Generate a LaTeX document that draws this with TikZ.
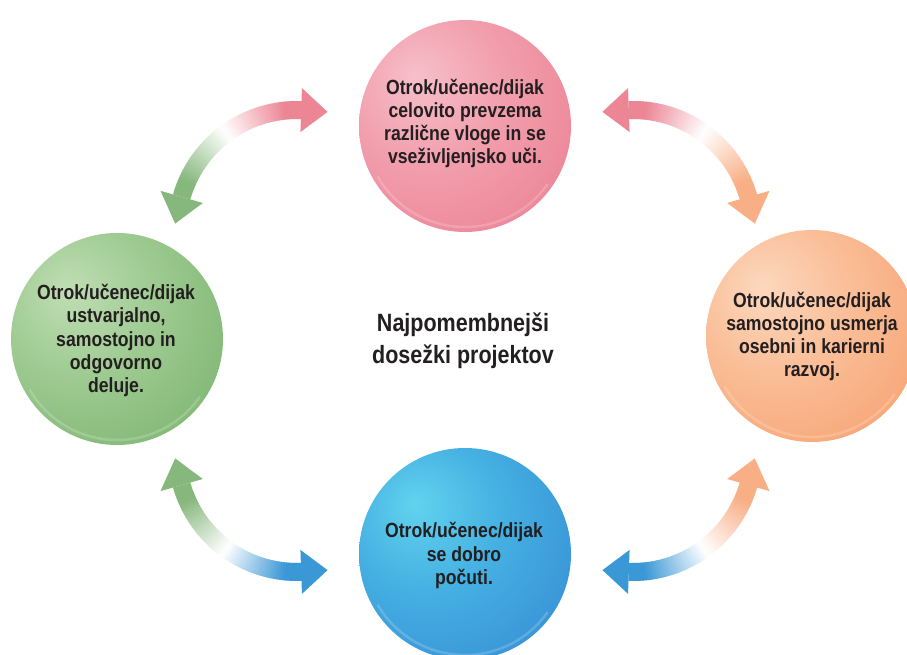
\documentclass[tikz,border=0pt]{standalone}
\usepackage{fontspec}
\setmainfont[FakeStretch=0.86]{Liberation Sans}
\definecolor{txt}{HTML}{231F20}
\definecolor{greenA}{HTML}{C0DEB4}
\definecolor{greenB}{HTML}{9FCB92}
\definecolor{greenC}{HTML}{80B774}
\definecolor{greenD}{HTML}{68A05C}
\definecolor{pinkA}{HTML}{F6C0CA}
\definecolor{pinkB}{HTML}{F29FAD}
\definecolor{pinkC}{HTML}{EC8597}
\definecolor{pinkD}{HTML}{E15670}
\definecolor{orangeA}{HTML}{FCD8BE}
\definecolor{orangeB}{HTML}{FABE98}
\definecolor{orangeC}{HTML}{F7A575}
\definecolor{orangeD}{HTML}{F38F57}
\definecolor{blueA}{HTML}{62D3EE}
\definecolor{blueB}{HTML}{45B0E2}
\definecolor{blueC}{HTML}{3892D6}
\definecolor{blueD}{HTML}{2A74C2}
\definecolor{arG}{HTML}{86B77C}
\definecolor{arP}{HTML}{EC8594}
\definecolor{arO}{HTML}{F8AF86}
\definecolor{arB}{HTML}{3B98D6}
\pgfdeclareradialshading{ballgreen}{\pgfpoint{-12bp}{12bp}}{color(0bp)=(greenA); color(18bp)=(greenB); color(38bp)=(greenC); color(52bp)=(greenD); color(80bp)=(greenD)}
\pgfdeclareradialshading{ballpink}{\pgfpoint{-12bp}{12bp}}{color(0bp)=(pinkA); color(18bp)=(pinkB); color(38bp)=(pinkC); color(52bp)=(pinkD); color(80bp)=(pinkD)}
\pgfdeclareradialshading{ballorange}{\pgfpoint{-12bp}{12bp}}{color(0bp)=(orangeA); color(18bp)=(orangeB); color(38bp)=(orangeC); color(52bp)=(orangeD); color(80bp)=(orangeD)}
\pgfdeclareradialshading{ballblue}{\pgfpoint{-12bp}{12bp}}{color(0bp)=(blueA); color(18bp)=(blueB); color(38bp)=(blueC); color(52bp)=(blueD); color(80bp)=(blueD)}
% #1,#2 centre; #3 base angle end 1; #4 tip angle end 1; #5 base angle end 2; #6 tip angle end 2; #7 colour 1; #8 colour 2
\newcommand{\dbarrow}[8]{%
  \begin{scope}[shift={(#1,#2)}]
    \foreach \ii in {0,...,59}{%
      \pgfmathsetmacro{\arTq}{(\ii+0.5)/60}%
      \pgfmathsetmacro{\arSa}{#3+(#5-#3)*\ii/60}%
      \pgfmathsetmacro{\arEa}{#3+(#5-#3)*(\ii+1.4)/60}%
      \pgfmathsetmacro{\arPa}{max(0,min(100,(0.5-\arTq)/0.4*100))}%
      \pgfmathsetmacro{\arPb}{max(0,min(100,(\arTq-0.5)/0.4*100))}%
      \ifdim \arTq pt<0.5pt \def\arCol{#7!\arPa!white}\else \def\arCol{#8!\arPb!white}\fi
      \fill[\arCol] (\arSa:129) arc[start angle=\arSa, end angle=\arEa, radius=129]
        -- (\arEa:111) arc[start angle=\arEa, end angle=\arSa, radius=111] -- cycle;
    }
    \fill[#7] (#3:142) -- (#4:122) -- (#3:98) -- cycle;
    \fill[#8] (#5:142) -- (#6:122) -- (#5:98) -- cycle;
  \end{scope}}
\tikzset{
  ball/.style={circle, minimum size=212pt, inner sep=0pt},
  balltext/.style={font=\fontsize{20.5}{23.3}\selectfont\bfseries, align=center, text=txt, inner sep=0pt},
  gloss/.style={white, opacity=0.18, line width=2.5pt}
}
\begin{document}
\begin{tikzpicture}[x=1pt,y=1pt]
\clip (0,0) rectangle (907,655);
\fill[white] (0,0) rectangle (907,655);
% arrows
\dbarrow{297}{425}{164}{177}{88}{75.5}{arG}{arP}
\dbarrow{633}{425}{92}{104.5}{16}{3}{arP}{arO}
\dbarrow{297}{203}{196}{183}{272}{284.5}{arG}{arB}
\dbarrow{633}{203}{268}{255.5}{344}{357}{arB}{arO}
% balls
\node[ball, shading=ballpink] (topball) at (465,529) {};
\node[ball, shading=ballgreen] (leftball) at (117,316) {};
\node[ball, shading=ballorange] (rightball) at (812,319) {};
\node[ball, shading=ballblue] (botball) at (465,101) {};
\foreach \b in {topball,leftball,rightball,botball}{
  \draw[gloss] ([shift={(\b.center)}]210:101) arc[start angle=210, end angle=325, radius=101];
}
% texts
\node[balltext] (toptext) at (465,531.5) {Otrok/učenec/dijak\\celovito prevzema\\različne vloge in se\\vseživljenjsko uči.};
\node[balltext] (lefttext) at (116,314.5) {Otrok/učenec/dijak\\ustvarjalno,\\samostojno in\\odgovorno\\deluje.};
\node[balltext] (righttext) at (812,318.5) {Otrok/učenec/dijak\\samostojno usmerja\\osebni in karierni\\razvoj.};
\node[balltext] (bottext) at (464,99.5) {Otrok/učenec/dijak\\se dobro\\počuti.};
\node[font=\fontsize{25}{32}\selectfont\bfseries, align=center, text=txt, inner sep=0pt] (centre) at (463,314.5) {Najpomembnejši\\dosežki projektov};
\end{tikzpicture}
\end{document}
